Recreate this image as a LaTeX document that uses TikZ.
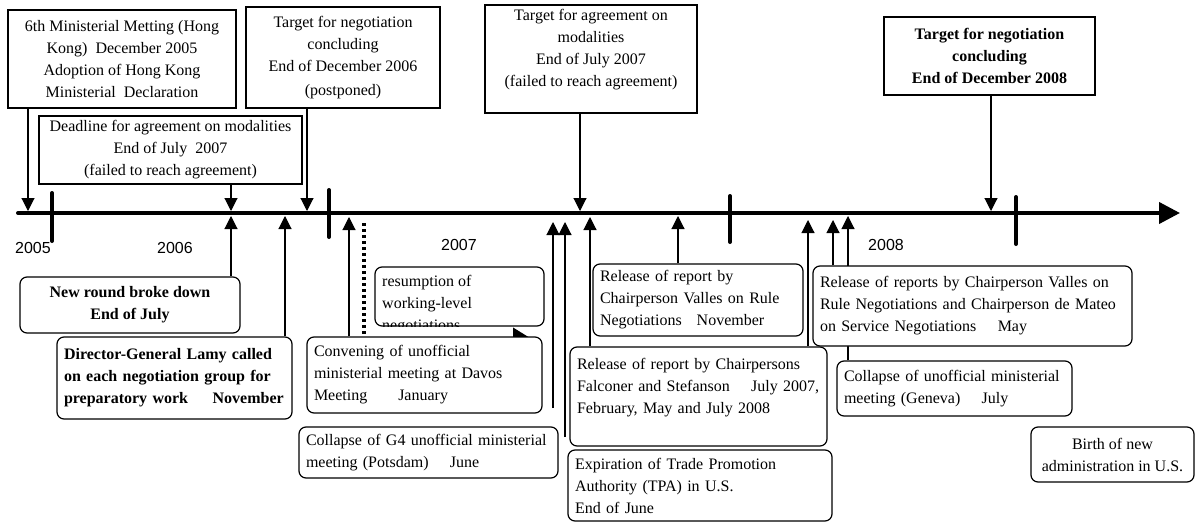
\documentclass[tikz,border=0pt]{standalone}
\usepackage{fontspec}
\setmainfont{Liberation Serif}
\newfontfamily\yrfont{Liberation Sans}
\usetikzlibrary{arrows.meta}
\pgfdeclarelayer{bg}
\pgfsetlayers{bg,main}
\begin{document}
\begin{tikzpicture}[x=1pt,y=-1pt,
  txt/.style={font=\fontsize{16pt}{22pt}\selectfont},
  bftxt/.style={font=\fontsize{16pt}{22pt}\selectfont\bfseries},
  sbox/.style={draw,line width=1.2pt,fill=white,inner xsep=7pt,inner ysep=2pt,align=center,txt},
  rbox/.style={sbox,rounded corners=7pt},
  lbox/.style={rbox,align=left},
  con/.style={line width=1.1pt,-{Triangle[width=13pt,length=13pt]}},
  dotcon/.style={line width=4pt,dash pattern=on 3pt off 3pt,-{Triangle[width=26pt,length=22pt]}},
  axisline/.style={line width=4pt,line cap=round,-{Triangle[width=21pt,length=21pt]}},
  tickline/.style={line width=4pt,line cap=round},
  yr/.style={font=\yrfont\fontsize{16pt}{19pt}\selectfont,inner sep=0pt}
]
\useasboundingbox (0,0) rectangle (1203,522);

% axis
\coordinate (ax0) at (18,213);
\coordinate (ax1) at (1180,213);
\draw[axisline] (ax0) -- (ax1);

% ticks
\draw[tickline] (52,193) -- (52,241);
\draw[tickline] (329,190) -- (329,237);
\draw[tickline] (730,196) -- (730,242);
\draw[tickline] (1016,197) -- (1016,244);

% years
\node[yr] (y2005) at (33,248) {2005};
\node[yr] (y2006) at (175,248) {2006};
\node[yr] (y2007) at (459,245) {2007};
\node[yr] (y2008) at (886,245) {2008};

% top boxes
\node[sbox,minimum width=228pt,minimum height=98pt] (b1) at (122,59)
  {6th Ministerial Metting (Hong\\Kong)~ December 2005\\Adoption of Hong Kong\\Ministerial~ Declaration};
\node[sbox,minimum width=263pt,minimum height=68pt] (b2) at (170.5,150)
  {Deadline for agreement on modalities\\End of July~ 2007\\(failed to reach agreement)};
\node[sbox,minimum width=194pt,minimum height=101pt] (b3) at (343,57.5)
  {Target for negotiation\\concluding\\End of December 2006\\[2pt](postponed)};
\node[sbox,minimum width=212pt,minimum height=108pt] (b4) at (591,59)
  {Target for agreement on\\modalities\\End of July 2007\\(failed to reach agreement)\\\mbox{}};
\node[sbox,bftxt,minimum width=211pt,minimum height=78pt] (b5) at (989.5,56)
  {Target for negotiation\\concluding\\End of December 2008};

% bottom boxes
\node[rbox,bftxt,minimum width=220pt,minimum height=56pt] (c1) at (130,305)
  {New round broke down\\End of July};
\node[lbox,bftxt,text width=221pt,minimum height=82pt] (c2) at (174.5,378)
  {Director-General Lamy called\\on each negotiation group for\\preparatory work\hspace{1.2em} November};
\node[rbox,minimum width=169pt,minimum height=59pt] (c3) at (459.5,296.5) {};
\begin{scope}
  \clip[rounded corners=7pt] (c3.south west) rectangle (c3.north east);
  \node[txt,align=left,inner sep=0pt,anchor=north west] (c3t) at (382,271)
    {\strut resumption of\\working-level\\negotiations};
\end{scope}
\node[lbox,text width=221pt,minimum height=76pt] (c4) at (424.5,375)
  {Convening of unofficial\\ministerial meeting at Davos\\Meeting\hspace{1.6em} January};
\node[lbox,text width=245pt,minimum height=51pt] (c5) at (428.5,452.5)
  {Collapse of G4 unofficial ministerial\\meeting (Potsdam)\hspace{1em} June};
\node[lbox,text width=196pt,minimum height=72pt] (c6) at (698,300)
  {Release of report by\\Chairperson Valles on Rule\\Negotiations\hspace{0.6em} November};
\node[lbox,text width=243pt,minimum height=99pt] (c7) at (698.5,396.5)
  {Release of report by Chairpersons\\Falconer and Stefanson\hspace{1em} July 2007,\\February, May and July 2008\\\mbox{}};
\node[lbox,text width=250pt,minimum height=71pt] (c8) at (700,485.5)
  {Expiration of Trade Promotion\\Authority (TPA) in U.S.\\End of June};
\node[lbox,text width=305pt,minimum height=80pt] (c9) at (972.5,306)
  {Release of reports by Chairperson Valles on\\Rule Negotiations and Chairperson de Mateo\\on Service Negotiations\hspace{1em} May};
\node[lbox,text width=221pt,minimum height=55pt] (c10) at (954.5,388.5)
  {Collapse of unofficial ministerial\\meeting (Geneva)\hspace{1em} July};
\node[rbox,minimum width=163pt,minimum height=55pt] (c11) at (1112.5,454.5)
  {Birth of new\\administration in U.S.};

% connector end points
\coordinate (t1) at (28,211);
\coordinate (t2) at (231,211);
\coordinate (t3) at (307,211);
\coordinate (t4) at (580,211);
\coordinate (t5) at (991,211);
\coordinate (u1) at (231,216);
\coordinate (u2) at (285,216);
\coordinate (u3) at (349,217);
\coordinate (u4) at (553,222);
\coordinate (u4s) at (553,408);
\coordinate (u5) at (565,222);
\coordinate (u5s) at (565,437);
\coordinate (u6) at (590,217);
\coordinate (u7) at (678,216);
\coordinate (u8) at (808,220);
\coordinate (u9) at (833,220);
\coordinate (u10) at (848,216);
\coordinate (d0) at (364,223);
\coordinate (d1) at (535,341);

\begin{pgfonlayer}{bg}
\draw[con] (b1.south -| t1) -- (t1);
\draw[con] (b2.south -| t2) -- (t2);
\draw[con] (b3.south -| t3) -- (t3);
\draw[con] (b4.south -| t4) -- (t4);
\draw[con] (b5.south -| t5) -- (t5);
\draw[con] (c1.north -| u1) -- (u1);
\draw[con] (c2.north -| u2) -- (u2);
\draw[con] (c4.north -| u3) -- (u3);
\draw[con] (u4s) -- (u4);
\draw[con] (u5s) -- (u5);
\draw[con] (c7.north -| u6) -- (u6);
\draw[con] (c6.north -| u7) -- (u7);
\draw[con] (c7.north -| u8) -- (u8);
\draw[con] (c9.north -| u9) -- (u9);
\draw[con] (c10.north -| u10) -- (u10);
\draw[dotcon] (d0) |- (d1);
\end{pgfonlayer}
\end{tikzpicture}
\end{document}
